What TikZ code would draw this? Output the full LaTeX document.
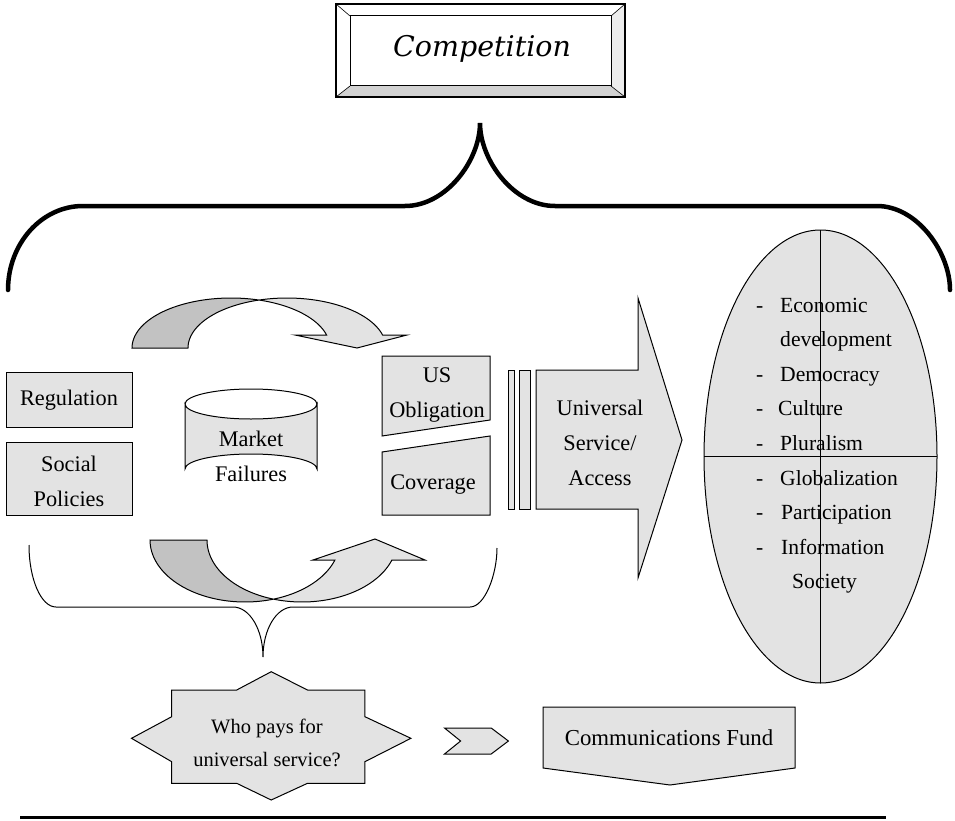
\documentclass[tikz,border=0pt]{standalone}
\usepackage{fontspec}
\setmainfont{Liberation Serif}
\newfontfamily\compfont{DejaVu Serif}
\definecolor{shade}{HTML}{E3E3E3}
\definecolor{darkshade}{HTML}{C2C2C2}
\definecolor{bevelgray}{HTML}{D2D2D2}
\definecolor{bevelside}{HTML}{ECECEC}
\tikzset{
  part/.style={draw, fill=shade, line width=1pt, line join=miter},
  darkpart/.style={part, fill=darkshade},
  txt/.style={align=center, inner sep=0pt, font=\fontsize{22.3}{34.8}\selectfont},
  item/.style={anchor=base west, inner sep=0pt, font=\fontsize{21.6}{34.6}\selectfont},
  brace/.style={line width=4.5pt, line cap=round},
  thinbrace/.style={line width=1pt},
}

\begin{document}
\begin{tikzpicture}[x=1pt, y=-1pt]
  \useasboundingbox (0,0) rectangle (955,821);
  %================= Parameters (edit these) =================
  % upper curved arrow: two ellipses shifted sideways
  \def\uxa{231} \def\uxb{287} \def\uy{348} \def\urx{99} \def\ury{50}
  % lower curved arrow
  \def\lxa{245} \def\lxb{302} \def\ly{540} \def\lrx{95} \def\lry{62}

  %================= Competition (bevelled frame) =================
  \fill[white] (336,4) -- (625,4) -- (611,16) -- (350,16) -- cycle;
  \fill[white] (336,4) -- (350,16) -- (350,86) -- (336,97) -- cycle;
  \fill[bevelside] (625,4) -- (611,16) -- (611,86) -- (625,97) -- cycle;
  \fill[bevelgray] (336,97) -- (350,86) -- (611,86) -- (625,97) -- cycle;
  \draw[line width=1.2pt] (336,4) rectangle (625,97);
  \draw[line width=1pt] (350,16) rectangle (611,86);
  \draw[line width=0.6pt] (336,4) -- (350,16) (625,4) -- (611,16)
    (336,97) -- (350,86) (625,97) -- (611,86);
  \node[inner sep=0pt] (comp) at (482,49)
    {\fontsize{28.5}{30}\selectfont\compfont\itshape Competition};

  %================= Big brace below Competition =================
  \draw[brace] (8,290) .. controls (8,243.6) and (41.6,206) .. (83,206)
    -- (405,206) .. controls (446.4,206) and (480,160.2) .. (480,123)
    .. controls (480,160.2) and (513.6,206) .. (555,206)
    -- (877,206) .. controls (917.3,206) and (950,252.4) .. (950,290);

  %================= Left boxes =================
  \draw[part] (6,372) rectangle (132,427);
  \node[txt] (regul) at (69,400) {Regulation};
  \draw[part] (6,442) rectangle (132,515);
  \node[txt] (social) at (69,481) {Social\\Policies};

  %================= Market failures (cylinder) =================
  \draw[part] (185,404) -- (185,469) arc[start angle=180, end angle=0, x radius=66, y radius=-15]
    -- (317,404) arc[start angle=0, end angle=-180, x radius=66, y radius=-15] -- cycle;
  \draw[line width=1pt] (185,404) arc[start angle=180, end angle=0, x radius=66, y radius=-15];
  \node[txt] (market) at (251,456) {Market\\Failures};

  %================= US obligation / coverage =================
  \draw[part] (382,356) -- (490,356) -- (490,420) -- (382,436) -- cycle;
  \node[txt] (usob) at (437,395) {US\\Obligation};
  \draw[part] (382,452) -- (490,436) -- (490,515) -- (382,515) -- cycle;
  \node[txt] (cover) at (433,485) {Coverage};

  %================= Upper curved arrow =================
  \draw[darkpart]
    plot[variable=\t, domain=180:73.57, samples=40] ({\uxa+\urx*cos(\t)},{\uy-\ury*sin(\t)})
    -- plot[variable=\t, domain=106.43:180, samples=40] ({\uxb+\urx*cos(\t)},{\uy-\ury*sin(\t)})
    -- cycle;
  \draw[part]
    plot[variable=\t, domain=106.43:15.07, samples=40] ({\uxb+\urx*cos(\t)},{\uy-\ury*sin(\t)})
    -- (407,335) -- (357,348) -- (295,335)
    -- plot[variable=\t, domain=15.07:73.57, samples=40] ({\uxa+\urx*cos(\t)},{\uy-\ury*sin(\t)})
    -- cycle;

  %================= Lower curved arrow =================
  \draw[darkpart]
    plot[variable=\t, domain=180:72.54, samples=40] ({\lxa+\lrx*cos(\t)},{\ly+\lry*sin(\t)})
    -- plot[variable=\t, domain=107.46:180, samples=40] ({\lxb+\lrx*cos(\t)},{\ly+\lry*sin(\t)})
    -- cycle;
  \draw[part]
    plot[variable=\t, domain=107.46:18.82, samples=40] ({\lxb+\lrx*cos(\t)},{\ly+\lry*sin(\t)})
    -- (425,560) -- (375,539) -- (313,560)
    -- plot[variable=\t, domain=18.82:72.54, samples=40] ({\lxa+\lrx*cos(\t)},{\ly+\lry*sin(\t)})
    -- cycle;

  %================= Thin brace over the lower group =================
  \draw[thinbrace] (29,545) .. controls (29,579.2) and (41.1,607) .. (56,607)
    -- (233,607) .. controls (249.6,607) and (263,629.4) .. (263,657)
    .. controls (263,629.4) and (276.4,607) .. (293,607)
    -- (470,607) .. controls (484.9,607) and (497,574.4) .. (497,548);

  %================= Universal service arrow =================
  \draw[part] (508,370) rectangle (514,509);
  \draw[part] (519,370) rectangle (530,509);
  \draw[part] (536,370) -- (638,370) -- (638,298) -- (682,440) -- (638,578)
    -- (638,509) -- (536,509) -- cycle;
  \node[txt] (usa) at (600,443) {Universal\\Service/\\Access};

  %================= Goals ellipse =================
  \draw[part] (820.5,456.5) ellipse[x radius=116.5, y radius=226.5];
  \draw[line width=1pt] (820,230) -- (820,683) (704,456.5) -- (937,456.5);
  \foreach \dash/\word/\xx [count=\i] in {-/Economic/780, /development/780,
      -/Democracy/780, -/Culture/778, -/Pluralism/780, -/Globalization/780,
      -/Participation/781, -/Information/781, /Society/792}{
    \pgfmathsetmacro{\yy}{312+(\i-1)*34.6}
    \node[item] (dash\i) at (756,\yy) {\dash};
    \node[item] (goal\i) at (\xx,\yy) {\word};
  }

  %================= Who pays / fund =================
  \draw[part] (171.7,690) -- (236.7,690) -- (271.2,671.7) -- (307.5,690) -- (364.9,690)
    -- (364.9,716.7) -- (410.9,738.3) -- (364.9,761.7) -- (364.9,783.3) -- (307.5,783.3)
    -- (271.2,800) -- (236.7,783.3) -- (171.7,783.3) -- (171.7,761.7) -- (131.5,738.3)
    -- (171.7,716.7) -- cycle;
  \node[txt, font=\fontsize{20.5}{33}\selectfont] (who) at (267,743)
    {Who pays for\\universal service?};
  \draw[part] (444.5,728) -- (491.2,728) -- (508.4,741) -- (491.2,754) -- (444.5,754)
    -- (460.6,741) -- cycle;
  \draw[part] (543,707) -- (795,707) -- (795,768) -- (670,785) -- (543,768) -- cycle;
  \node[txt, font=\fontsize{22.8}{30}\selectfont] (fund) at (669,738) {Communications Fund};

  %================= Bottom rule =================
  \draw[line width=3pt] (20,817) -- (886,817);
\end{tikzpicture}
\end{document}
